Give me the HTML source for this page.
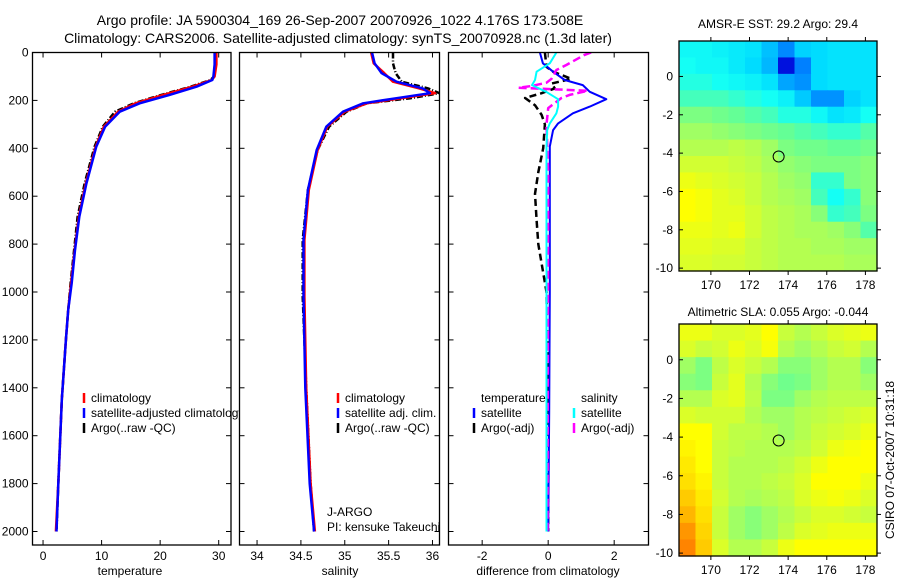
<!DOCTYPE html>
<html><head><meta charset="utf-8"><style>
html,body{margin:0;padding:0;background:#fff;}
svg{display:block;font-family:"Liberation Sans",sans-serif;}
text{fill:#000;}
</style></head><body>
<svg id="fig" width="900" height="580" viewBox="0 0 900 580" xmlns="http://www.w3.org/2000/svg">
<rect width="900" height="580" fill="#fff"/>
<text x="340" y="25" text-anchor="middle" font-size="14">Argo profile: JA 5900304_169 26-Sep-2007 20070926_1022 4.176S 173.508E</text>
<text x="338" y="43" text-anchor="middle" font-size="14">Climatology: CARS2006. Satellite-adjusted climatology: synTS_20070928.nc (1.3d later)</text>
<text x="778" y="28" text-anchor="middle" font-size="12">AMSR-E SST: 29.2 Argo: 29.4</text>
<text x="778" y="316" text-anchor="middle" font-size="12">Altimetric SLA: 0.055 Argo: -0.044</text>
<text x="0" y="0" transform="translate(894,460) rotate(-90)" text-anchor="middle" font-size="12">CSIRO 07-Oct-2007 10:31:18</text>
<text x="130" y="575" text-anchor="middle" font-size="12">temperature</text>
<text x="340" y="575" text-anchor="middle" font-size="12">salinity</text>
<text x="548" y="575" text-anchor="middle" font-size="12">difference from climatology</text>
<g id="layer"></g>
</svg>
<script>
// ---- profile data ----
const depthsT = [0,50,100,115,143,177,212,247,310,393,547,686,825,963,1075,1200,1450,1800,2000];
const tempSat = [29.3,29.3,29.1,28.9,26.2,21.6,16.5,13.1,10.6,9.1,7.4,6.2,5.45,4.9,4.3,3.9,3.2,2.6,2.3];
const tempClim = [29.6,29.6,29.3,28.8,25.5,20.5,15.8,12.8,10.4,9.0,7.3,6.1,5.4,4.8,4.3,3.9,3.2,2.6,2.2];
const tempArgo = [29.5,29.5,29.2,28.6,25.2,20.2,15.5,12.3,10.2,8.8,7.1,5.9,5.3,4.7,4.3,3.9,3.2,2.6,2.3];
const depthsS = [0,45,86,122,150,170,191,212,247,310,407,574,783,1020,1400,1800,2000];
const salSat = [35.31,35.34,35.42,35.59,35.89,35.97,35.59,35.21,34.98,34.79,34.68,34.58,34.53,34.53,34.55,34.60,34.65];
const salClim = [35.30,35.33,35.45,35.55,35.85,36.03,35.65,35.25,35.0,34.80,34.69,34.59,34.54,34.54,34.56,34.61,34.66];
const salArgo = [35.55,35.55,35.58,35.65,35.95,36.08,35.75,35.25,35.02,34.82,34.69,34.58,34.52,34.52,34.56,34.61,34.65];
const diffDepths = [0,45,80,115,136,164,195,226,254,296,324,393,600,1000,1500,2000];
const diffTSat = [-0.25,-0.16,0.15,0.5,1.05,1.26,1.76,1.26,0.75,0.3,0.15,0.05,0.05,0.05,0.03,0.0];
const diffSSat = [0.25,0.05,-0.35,-0.4,-0.49,-0.06,0.3,0.3,0.25,0.05,-0.03,-0.05,-0.05,-0.05,-0.05,-0.05];
const diffTArgoDepths = [0,60,80,110,130,150,170,190,220,260,300,400,500,590,700,800,1000,1500,2000];
const diffTArgo = [-0.1,-0.05,0.15,0.7,0.1,0.2,-0.2,-0.7,-0.4,-0.2,-0.1,-0.15,-0.3,-0.4,-0.35,-0.3,-0.05,0,0];
const diffSArgoDepths = [0,10,52,73,110,126,140,147,160,177,190,232,300,500,2000];
const diffSArgo = [1.3,1.1,0.55,0.25,0.1,-0.05,-0.5,-0.9,1.2,0.65,0.4,0.0,-0.05,0.0,-0.02];
const depthTicks = [0,200,400,600,800,1000,1200,1400,1600,1800,2000];
const tempTicks = [0,10,20,30];
const salTicks = [34,34.5,35,35.5,36];
const diffTicks = [-2,0,2];
// ---- map data ----
const mapLatTicks = [0,-2,-4,-6,-8,-10];
const mapLonTicks = [170,172,174,176,178];
const argoLon = 173.508, argoLat = -4.176;
const sstGrid = [
[0.49,0.49,0.48,0.47,0.46,0.42,0.36,0.44,0.45,0.46,0.46,0.46],
[0.50,0.49,0.49,0.47,0.45,0.41,0.22,0.35,0.45,0.46,0.46,0.46],
[0.51,0.51,0.50,0.49,0.48,0.46,0.39,0.37,0.45,0.46,0.46,0.46],
[0.53,0.53,0.53,0.52,0.51,0.50,0.48,0.43,0.37,0.37,0.44,0.46],
[0.57,0.57,0.56,0.55,0.54,0.53,0.51,0.51,0.49,0.46,0.47,0.50],
[0.60,0.60,0.59,0.58,0.57,0.56,0.55,0.54,0.53,0.52,0.52,0.54],
[0.62,0.62,0.62,0.63,0.62,0.60,0.57,0.56,0.56,0.55,0.55,0.56],
[0.65,0.65,0.65,0.64,0.63,0.61,0.59,0.58,0.57,0.57,0.57,0.58],
[0.68,0.67,0.66,0.65,0.64,0.62,0.60,0.59,0.52,0.52,0.57,0.58],
[0.70,0.69,0.67,0.66,0.64,0.62,0.61,0.60,0.53,0.50,0.52,0.58],
[0.70,0.69,0.67,0.67,0.65,0.63,0.62,0.61,0.58,0.52,0.53,0.57],
[0.68,0.68,0.67,0.68,0.65,0.63,0.62,0.61,0.61,0.60,0.58,0.54],
[0.67,0.67,0.66,0.66,0.64,0.63,0.62,0.62,0.61,0.61,0.60,0.60],
[0.66,0.66,0.65,0.65,0.64,0.63,0.62,0.62,0.62,0.62,0.61,0.61]];
const slaGrid = [
[0.68,0.68,0.66,0.66,0.67,0.70,0.64,0.62,0.64,0.66,0.67,0.68],
[0.66,0.64,0.65,0.68,0.66,0.69,0.62,0.60,0.62,0.64,0.65,0.62],
[0.60,0.57,0.63,0.66,0.64,0.62,0.58,0.58,0.60,0.62,0.62,0.58],
[0.58,0.57,0.64,0.67,0.62,0.58,0.56,0.57,0.60,0.62,0.62,0.60],
[0.62,0.62,0.66,0.67,0.63,0.57,0.57,0.60,0.62,0.63,0.63,0.63],
[0.66,0.65,0.65,0.65,0.62,0.60,0.60,0.62,0.63,0.64,0.65,0.66],
[0.70,0.70,0.65,0.63,0.63,0.62,0.60,0.62,0.64,0.65,0.66,0.68],
[0.71,0.70,0.64,0.63,0.62,0.62,0.62,0.63,0.65,0.68,0.69,0.70],
[0.72,0.70,0.64,0.62,0.62,0.62,0.63,0.65,0.68,0.70,0.70,0.70],
[0.73,0.71,0.64,0.62,0.62,0.63,0.64,0.66,0.70,0.70,0.70,0.68],
[0.75,0.72,0.65,0.62,0.61,0.62,0.63,0.66,0.68,0.69,0.68,0.66],
[0.77,0.73,0.64,0.60,0.58,0.60,0.62,0.64,0.66,0.66,0.65,0.64],
[0.80,0.74,0.64,0.60,0.58,0.60,0.63,0.66,0.67,0.68,0.68,0.68],
[0.82,0.75,0.66,0.62,0.62,0.64,0.68,0.70,0.70,0.70,0.70,0.70]];

const NS='http://www.w3.org/2000/svg';
const layer=document.getElementById('layer');
function mk(tag,attrs,parent){const e=document.createElementNS(NS,tag);for(const k in attrs)e.setAttribute(k,attrs[k]);(parent||layer).appendChild(e);return e;}

const TOP=52.5,BOT=545,DMAX=(545-52.5)/0.2395;
function yD(d){return TOP+d*(BOT-TOP)/DMAX;}
const panels=[
 {name:'temperature',x0:32.5,x1:231,vmin:-1.8,vmax:32.1,ticks:tempTicks},
 {name:'salinity',x0:239.5,x1:439.5,vmin:33.80,vmax:36.08,ticks:salTicks},
 {name:'difference',x0:448.5,x1:648.5,vmin:-3.02,vmax:3.04,ticks:diffTicks}];
function xs(p,v){return p.x0+(v-p.vmin)*(p.x1-p.x0)/(p.vmax-p.vmin);}

const defs=mk('defs',{});
panels.forEach((p,i)=>{
  const cp=mk('clipPath',{id:'clip'+i},defs);
  mk('rect',{x:p.x0,y:TOP,width:p.x1-p.x0,height:BOT-TOP},cp);
});

function axes(p,i){
  const g=mk('g',{});
  
  
  p.ticks.forEach(t=>{
    const x=xs(p,t);
    mk('line',{x1:x,x2:x,y1:BOT,y2:BOT-5,stroke:'#000'},g);
    mk('line',{x1:x,x2:x,y1:TOP,y2:TOP+5,stroke:'#000'},g);
    const tx=mk('text',{x:x,y:BOT+15,'text-anchor':'middle','font-size':12},g);
    tx.textContent=String(t);
    
    
  });
  depthTicks.forEach(d=>{
    const y=yD(d);
    mk('line',{x1:p.x0,x2:p.x0+5,y1:y,y2:y,stroke:'#000'},g);
    mk('line',{x1:p.x1,x2:p.x1-5,y1:y,y2:y,stroke:'#000'},g);
    if(i===0){
      const tx=mk('text',{x:p.x0-4,y:y+4,'text-anchor':'end','font-size':12},g);
      tx.textContent=String(d);
      
      
    }
  });
}
function series(p,i,depths,vals,color,name,dash,w){
  const pts=depths.map((d,k)=>xs(p,vals[k]).toFixed(1)+','+yD(d).toFixed(1)).join(' ');
  const el=mk('polyline',{points:pts,fill:'none',stroke:color,'stroke-width':w||2.5,'clip-path':'url(#clip'+i+')','stroke-linejoin':'round'});
  if(dash)el.setAttribute('stroke-dasharray',dash);
  
  
}
function box(p){
  const r=mk('rect',{x:p.x0,y:TOP,width:p.x1-p.x0,height:BOT-TOP,fill:'none',stroke:'#000','stroke-width':1.3});
  
  
}
function legend(x,y,color,label,name){
  mk('line',{x1:x,x2:x,y1:y-9,y2:y+1,stroke:color,'stroke-width':2.5});
  const t=mk('text',{x:x+7,y:y,'font-size':12});
  t.textContent=label;
  
  
}

let p=panels[0];
series(p,0,depthsT,tempArgo,'#000','temp-argo-line','6,2,1,2');
series(p,0,depthsT,tempClim,'#f00','temp-climatology-line');
series(p,0,depthsT,tempSat,'#00f','temp-satellite-line');
axes(p,0);
legend(84,402,'#f00','climatology','legend-entry-climatology');
legend(84,417,'#00f','satellite-adjusted climatology','legend-entry-satellite-adjusted');
legend(84,432,'#000','Argo(..raw -QC)','legend-entry-argo');
p=panels[1];
mk('rect',{x:p.x0,y:TOP,width:p.x1-p.x0,height:BOT-TOP,fill:'#fff'});
series(p,1,depthsS,salArgo,'#000','sal-argo-line','6,2,1,2');
series(p,1,depthsS,salClim,'#f00','sal-climatology-line');
series(p,1,depthsS,salSat,'#00f','sal-satellite-line');
axes(p,1);
legend(338,402,'#f00','climatology','legend-entry-climatology-sal');
legend(338,417,'#00f','satellite adj. clim.','legend-entry-satellite-sal');
legend(338,432,'#000','Argo(..raw -QC)','legend-entry-argo-sal');
let t=mk('text',{x:327,y:516,'font-size':12});t.textContent='J-ARGO';


t=mk('text',{x:327,y:531,'font-size':12});t.textContent='PI: kensuke Takeuchi';


p=panels[2];
mk('rect',{x:p.x0,y:TOP,width:p.x1-p.x0,height:BOT-TOP,fill:'#fff'});
t=mk('text',{x:481,y:402,'font-size':12});t.textContent='temperature';


t=mk('text',{x:581,y:402,'font-size':12});t.textContent='salinity';


series(p,2,diffTArgoDepths,diffTArgo,'#000','diff-temp-argo-line','7,4',2.5);
series(p,2,diffDepths,diffTSat,'#00f','diff-temp-satellite-line',null,2);
series(p,2,diffSArgoDepths,diffSArgo,'#f0f','diff-sal-argo-line','8,4',2.5);
series(p,2,diffDepths,diffSSat,'#0ff','diff-sal-satellite-line',null,2);
axes(p,2);
legend(474,417,'#00f','satellite','legend-entry-diff-temp-satellite');
legend(474,432,'#000','Argo(-adj)','legend-entry-diff-temp-argo');
legend(574,417,'#0ff','satellite','legend-entry-diff-sal-satellite');
legend(574,432,'#f0f','Argo(-adj)','legend-entry-diff-sal-argo');
panels.forEach(box);

const stops=[[0.2,[0,0,217]],[0.35,[0,128,255]],[0.45,[0,220,255]],[0.5,[20,255,245]],[0.55,[100,255,150]],[0.6,[160,255,100]],[0.65,[210,255,50]],[0.7,[255,255,0]],[0.8,[255,150,0]],[0.9,[255,60,0]]];
function cmap(v){
  if(v<=stops[0][0])return 'rgb('+stops[0][1]+')';
  for(let k=1;k<stops.length;k++){if(v<=stops[k][0]){const a=stops[k-1],b=stops[k],f=(v-a[0])/(b[0]-a[0]);
    return 'rgb('+a[1].map((c,j)=>Math.round(c+(b[1][j]-c)*f)).join(',')+')';}}
  return 'rgb('+stops[stops.length-1][1]+')';
}
function drawMap(m,grid,name,showX){
  const lon0=168.35,lon1=178.6,lat0=1.85,lat1=-10.15;
  const X=v=>m.x0+(v-lon0)*(m.x1-m.x0)/(lon1-lon0);
  const Y=v=>m.y0+(v-lat0)*(m.y1-m.y0)/(lat1-lat0);
  const rows=grid.length,cols=grid[0].length;
  const g=mk('g',{});
  
  
  grid.forEach((row,r)=>row.forEach((v,c)=>{
    const la=lat0+(lat1-lat0)*r/rows, lb=lat0+(lat1-lat0)*(r+1)/rows;
    const lo=lon0+(lon1-lon0)*c/cols, lp=lon0+(lon1-lon0)*(c+1)/cols;
    const cell=mk('rect',{x:X(lo),y:Y(la),width:X(lp)-X(lo)+0.6,height:Y(lb)-Y(la)+0.6,fill:cmap(v)},g);
    
    
  }));
  const fr=mk('rect',{x:m.x0,y:m.y0,width:m.x1-m.x0,height:m.y1-m.y0,fill:'none',stroke:'#000','stroke-width':1.3});
  
  
  mapLatTicks.forEach(v=>{const y=Y(v);
    mk('line',{x1:m.x0,x2:m.x0+4,y1:y,y2:y,stroke:'#000'});
    mk('line',{x1:m.x1,x2:m.x1+4,y1:y,y2:y,stroke:'#000'});
    const tx=mk('text',{x:m.x0-6,y:y+4,'text-anchor':'end','font-size':12});tx.textContent=String(v);
    
    });
  mapLonTicks.forEach(v=>{const x=X(v);
    mk('line',{x1:x,x2:x,y1:m.y1,y2:m.y1+4,stroke:'#000'});
    mk('line',{x1:x,x2:x,y1:m.y0,y2:m.y0-4,stroke:'#000'});
    if(showX){const tx=mk('text',{x:x,y:m.y1+18,'text-anchor':'middle','font-size':12});tx.textContent=String(v);
      
      }});
  const c=mk('circle',{cx:X(argoLon),cy:Y(argoLat),r:5.5,fill:'none',stroke:'#000','stroke-width':1});
  
  
}
drawMap({x0:679,x1:877,y0:41,y1:271},sstGrid,'sst-map',true);
drawMap({x0:679,x1:877,y0:324,y1:556},slaGrid,'sla-map',true);
</script>
</body></html>
